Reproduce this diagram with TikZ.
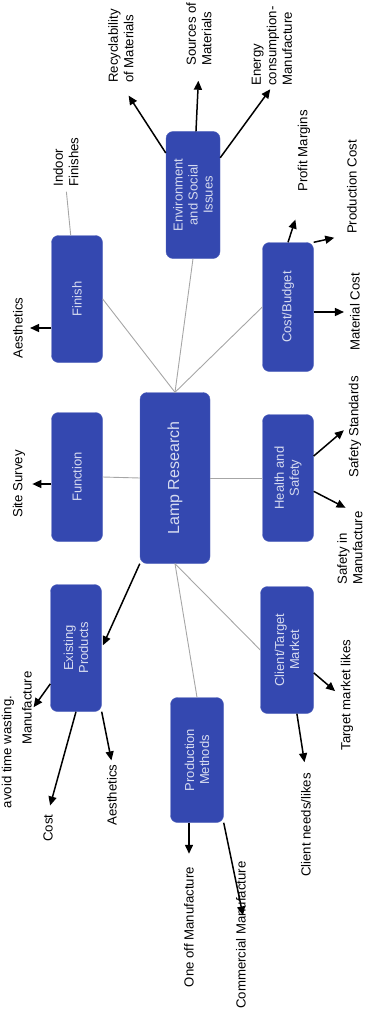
\documentclass[tikz,border=0pt]{standalone}
\usepackage{fontspec}
\setmainfont{Liberation Sans}
\usetikzlibrary{positioning,arrows.meta}
\definecolor{boxblue}{RGB}{52,72,176}
\definecolor{boxtext}{RGB}{214,219,240}

\begin{document}
\begin{tikzpicture}[x=1pt,y=-1pt,>={Triangle[length=9pt,width=8pt]}]
	\tikzstyle{topic} = [draw=boxblue!85!white, fill=boxblue, rounded corners=7pt, rotate=90, align=center, text=boxtext, font=\fontsize{13}{15}\selectfont, minimum width=127pt, minimum height=51pt, inner sep=2pt]
	\tikzstyle{idea} = [rotate=90, align=left, font=\fontsize{13.2}{15.5}\selectfont, inner sep=1pt]
	\tikzstyle{link} = [draw=gray!70, line width=0.9pt]
	\tikzstyle{arr} = [->, line width=1.5pt, shorten >=3pt]
	
	\useasboundingbox (0,0) rectangle (368,1022);
	
	\node[topic, minimum width=171pt, minimum height=70pt, font=\fontsize{16}{18}\selectfont] (lamp) at (175,478) {Lamp Research};
	
	\node[topic] (finish) at (77,299) {Finish};
	\node[topic, minimum height=54pt] (env) at (193,195) {Environment\\and Social\\Issues};
	\node[topic, minimum width=129pt] (cost) at (288,307) {Cost/Budget};
	\node[topic, minimum width=129pt] (function) at (77,477) {Function};
	\node[topic] (health) at (288,478) {Health and\\Safety};
	\node[topic] (existing) at (76,648) {Existing\\Products};
	\node[topic, minimum height=53pt] (client) at (287,650) {Client/Target\\Market};
	\node[topic, minimum width=125pt, minimum height=53pt] (prod) at (197,760) {Production\\Methods};
	
	\node[idea] (recyc) at (121,46) {Recyclability\\of Materials};
	\node[idea] (sources) at (199,34) {Sources of\\Materials};
	\node[idea] (energy) at (272,46) {Energy\\consumption-\\Manufacture};
	\node[idea] (indoor) at (66,162) {Indoor\\Finishes};
	\node[idea] (profit) at (304,151) {Profit Margins};
	\node[idea] (prodcost) at (352,187) {Production Cost};
	\node[idea] (aes1) at (18,328) {Aesthetics};
	\node[idea] (matcost) at (355,312) {Material Cost};
	\node[idea] (site) at (19,484) {Site Survey};
	\node[idea] (safestd) at (355,427) {Safety Standards};
	\node[idea] (safmanu) at (350,548) {Safety in\\Manufacture};
	\node[idea] (manu) at (27,708) {Manufacture};
	\node[idea] (wasting) at (8,752) {avoid time wasting.};
	\node[idea] (cost2) at (48,828) {Cost};
	\node[idea] (aes2) at (112,795) {Aesthetics};
	\node[idea] (oneoff) at (189,927) {One off Manufacture};
	\node[idea] (comm) at (241,935) {Commercial Manufacture};
	\node[idea] (needs) at (306,825) {Client needs/likes};
	\node[idea] (target) at (347,695) {Target market likes};
	
	% grey links from the centre
	\draw[link] (lamp.east) -- (finish.south);
	\draw[link] (lamp.east) -- (env.west);
	\draw[link] (lamp.east) -- (cost.north);
	\draw[link] (lamp.north) -- (function.south);
	\draw[link] (lamp.south) -- (health.north);
	\draw[link] (lamp.west) -- (prod.east);
	\draw[link] (lamp.west) -- (client.north);
	\draw[link, shorten >=4pt] (finish) -- (indoor.west);
	
	\draw[arr] (lamp.north west) -- (existing.south);
	
	\draw[arr, shorten >=14pt] (env) -- (recyc.west);
	\draw[arr, shorten >=14pt] (env) -- (sources.west);
	\draw[arr] (env) -- (energy.west);
	
	\draw[arr, shorten >=28pt] (cost.east) -- (profit.west);
	\draw[arr, shorten >=12pt] (cost.south east) -- (prodcost.north west);
	\draw[arr, shorten >=5pt] (cost.south |- matcost) -- (matcost.north);
	
	\draw[arr, shorten >=6pt] (finish.north |- aes1) -- (aes1.south);
	\draw[arr, shorten >=6pt] (function.north |- site) -- (site.south);
	
	\draw[arr, shorten >=5pt] (health) -- (safestd.north);
	\draw[arr, shorten >=5pt] (health) -- (safmanu.east);
	
	\draw[arr, shorten >=1pt] (existing) -- (manu.south);
	\draw[arr, shorten >=8pt] (existing.west) -- (cost2.east);
	\draw[arr] (existing.south west) -- (aes2.east);
	
	\draw[arr, shorten >=12pt] (oneoff.east |- prod.west) -- (oneoff.east);
	\draw[arr, shorten >=20pt] (prod.south west) -- (comm.south);
	
	\draw[arr, shorten >=6pt] (client) -- (target.north);
	\draw[arr, shorten >=10pt] (client) -- (needs.east);
\end{tikzpicture}
\end{document}
